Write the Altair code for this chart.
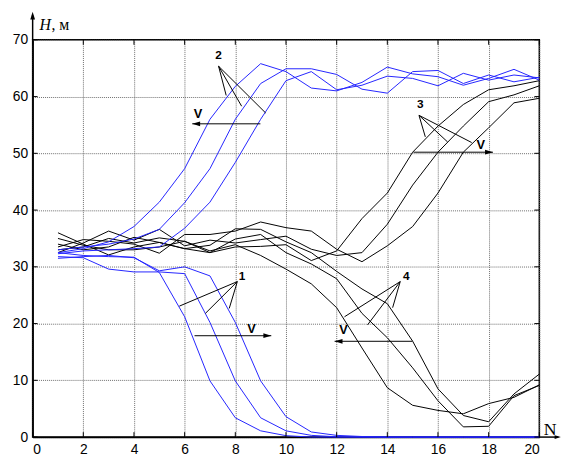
import altair as alt
import pandas as pd

# ---------------- data ----------------
N = list(range(1, 21))

# blue, group 1 (falling)
b1a = [32.5, 32.0, 31.8, 31.7, 29.0, 21.2, 9.9, 3.4, 1.1, 0.25, 0, 0, 0, 0, 0, 0, 0, 0, 0, 0]
b1b = [31.8, 31.6, 29.6, 29.1, 29.1, 28.8, 20.2, 9.9, 3.4, 1.1, 0.3, 0.05, 0, 0, 0, 0, 0, 0, 0, 0]
b1c = [31.5, 31.8, 32.0, 31.6, 29.3, 30.0, 28.4, 20.2, 9.9, 3.6, 0.9, 0.3, 0.1, 0, 0, 0, 0, 0, 0, 0]
# blue, group 2 (rising)
b2a = [32.5, 33.2, 34.4, 37.1, 41.4, 47.3, 56.0, 61.8, 65.8, 64.4, 61.5, 61.0, 62.5, 65.2, 64.0, 63.5, 62.0, 63.2, 64.8, 62.9]
b2b = [33.0, 33.5, 34.0, 34.9, 36.6, 41.3, 47.3, 56.0, 62.3, 64.9, 64.9, 63.9, 61.3, 60.6, 64.4, 64.6, 62.3, 63.8, 62.6, 63.4]
b2c = [32.3, 32.8, 33.0, 33.2, 33.5, 36.8, 41.4, 48.4, 56.0, 62.8, 64.4, 61.2, 62.0, 63.6, 63.2, 61.9, 64.1, 62.9, 63.8, 63.3]
# black, group 3 (rising late)
k3a = [36.0, 34.0, 32.1, 33.5, 34.3, 33.2, 32.5, 33.5, 33.6, 33.9, 31.1, 32.8, 38.5, 43.0, 50.2, 54.8, 58.6, 61.2, 61.9, 62.8]
k3b = [32.5, 34.2, 36.3, 34.7, 36.6, 33.7, 34.7, 34.2, 34.8, 35.4, 33.1, 32.0, 32.5, 37.5, 44.4, 50.2, 54.8, 59.1, 60.3, 61.9]
k3c = [33.5, 34.8, 34.5, 34.0, 32.4, 35.7, 35.7, 36.3, 37.9, 36.9, 36.3, 33.1, 30.9, 33.7, 37.1, 43.0, 50.2, 54.5, 58.9, 59.7]
# black, group 4 (falling late)
k4a = [33.0, 33.5, 35.0, 34.2, 35.1, 34.5, 32.8, 33.9, 32.0, 29.6, 27.0, 22.8, 15.7, 8.7, 5.6, 4.7, 4.1, 5.9, 7.0, 9.2]
k4b = [34.0, 33.0, 33.5, 35.2, 34.3, 33.2, 33.8, 36.7, 36.6, 34.4, 32.5, 29.2, 26.1, 23.5, 16.9, 8.5, 3.8, 2.7, 7.6, 11.1]
k4c = [35.0, 33.8, 33.0, 33.0, 33.5, 34.5, 32.5, 34.9, 35.7, 32.5, 30.5, 27.9, 21.8, 17.5, 12.2, 6.4, 1.8, 1.9, 7.3, 9.1]

blue_series = {"1a": b1a, "1b": b1b, "1c": b1c, "2a": b2a, "2b": b2b, "2c": b2c}
black_series = {"3a": k3a, "3b": k3b, "3c": k3c, "4a": k4a, "4b": k4b, "4c": k4c}

x_ticks = list(range(0, 21, 2))
y_ticks = list(range(0, 71, 10))

# annotations (data coordinates)
lab_text = ["1", "2", "3", "4"]
lab_x = [8.27, 7.34, 15.30, 14.75]
lab_y = [28.45, 67.25, 58.6, 28.45]

lead_x = [8.08, 8.08, 8.08, 7.34, 7.34, 7.34, 15.25, 15.25, 15.25, 14.51, 14.51, 14.51]
lead_y = [27.4, 27.4, 27.4, 65.35, 65.35, 65.35, 56.7, 56.7, 56.7, 27.4, 27.4, 27.4]
lead_x2 = [5.79, 6.82, 7.76, 7.64, 8.25, 9.20, 15.50, 16.38, 17.33, 12.31, 13.22, 14.21]
lead_y2 = [23.07, 21.8, 22.67, 60.2, 58.3, 57.1, 52.9, 52.0, 51.9, 21.2, 19.77, 22.8]

arr_from = [6.39, 8.99, 15.03, 14.99]
arr_to = [9.42, 6.30, 18.17, 11.92]
arr_y = [17.86, 55.2, 50.2, 16.88]
v_x = [8.64, 6.53, 17.69, 12.27]
v_y = [18.97, 57.0, 51.5, 18.9]

# ---------------- frames ----------------
rows = []
for grp, d in (("blue", blue_series), ("black", black_series)):
    for name, vals in d.items():
        for n, h in zip(N, vals):
            rows.append({"N": n, "H": h, "s": name, "g": grp})
df = pd.DataFrame(rows)

lead_df = pd.DataFrame({"x": lead_x, "y": lead_y, "x2": lead_x2, "y2": lead_y2})
arr_df = pd.DataFrame({"x": arr_from, "x2": arr_to, "y": arr_y,
                       "dir": ["r" if b > a else "l" for a, b in zip(arr_from, arr_to)]})
lab_df = pd.DataFrame({"x": lab_x, "y": lab_y, "t": lab_text})
v_df = pd.DataFrame({"x": v_x, "y": v_y, "t": ["V"] * 4})
xt_df = pd.DataFrame({"v": x_ticks})
yt_df = pd.DataFrame({"v": y_ticks})

W, H = 514, 403
xs = alt.Scale(domain=[0, 20], nice=False, zero=False)
ys = alt.Scale(domain=[0, 70], nice=False, zero=False)
xaxis = alt.Axis(values=x_ticks, title=None, grid=True, ticks=False, labelPadding=6)
yaxis = alt.Axis(values=y_ticks, title=None, grid=True, ticks=False, labelPadding=5)


def X(f):
    return alt.X(f, type="quantitative", scale=xs, axis=xaxis)


def Y(f):
    return alt.Y(f, type="quantitative", scale=ys, axis=yaxis)


BLUE = "#2424ff"

black_lines = alt.Chart(df[df.g == "black"]).mark_line(color="black", strokeWidth=1, clip=False).encode(
    x=X("N"), y=Y("H"), detail="s:N")
blue_lines = alt.Chart(df[df.g == "blue"]).mark_line(color=BLUE, strokeWidth=1, clip=False).encode(
    x=X("N"), y=Y("H"), detail="s:N")

leaders = alt.Chart(lead_df).mark_rule(color="black", strokeWidth=1, clip=False).encode(
    x=X("x"), y=Y("y"), x2="x2", y2="y2")
arrows = alt.Chart(arr_df).mark_rule(color="black", strokeWidth=1, clip=False).encode(
    x=X("x"), x2="x2", y=Y("y"))
head_r = alt.Chart(arr_df[arr_df.dir == "r"]).mark_point(
    shape="M0,0L-2,-0.6L-2,0.6Z", filled=True, color="black", size=64, opacity=1, clip=False).encode(
    x=X("x2"), y=Y("y"))
head_l = alt.Chart(arr_df[arr_df.dir == "l"]).mark_point(
    shape="M0,0L2,-0.6L2,0.6Z", filled=True, color="black", size=64, opacity=1, clip=False).encode(
    x=X("x2"), y=Y("y"))
labels = alt.Chart(lab_df).mark_text(font="Liberation Sans", fontWeight="bold", fontSize=12,
                                     color="black", clip=False).encode(x=X("x"), y=Y("y"), text="t:N")
vlabels = alt.Chart(v_df).mark_text(font="Liberation Sans", fontWeight="bold", fontSize=13,
                                    color="black", clip=False).encode(x=X("x"), y=Y("y"), text="t:N")

# inward ticks on all four sides
tk_left = alt.Chart(yt_df).mark_rule(color="black", strokeWidth=1).encode(
    y=Y("v"), x=alt.value(0), x2=alt.value(5))
tk_right = alt.Chart(yt_df).mark_rule(color="black", strokeWidth=1).encode(
    y=Y("v"), x=alt.value(W - 5), x2=alt.value(W))
tk_top = alt.Chart(xt_df).mark_rule(color="black", strokeWidth=1).encode(
    x=X("v"), y=alt.value(0), y2=alt.value(5))
tk_bot = alt.Chart(xt_df).mark_rule(color="black", strokeWidth=1).encode(
    x=X("v"), y=alt.value(H - 5), y2=alt.value(H))

# axis arrows and axis names
ax_df = pd.DataFrame({"x": [0, 20], "y": [70, 0], "x2": [0, 20.75], "y2": [74.3, 0]})
ax_lines = alt.Chart(ax_df).mark_rule(color="black", strokeWidth=1.5, clip=False).encode(
    x=X("x"), y=Y("y"), x2="x2", y2="y2")
up_head = alt.Chart(pd.DataFrame({"x": [0], "y": [74.95]})).mark_point(
    shape="M0,0L-0.6,2L0.6,2Z", filled=True, color="black", size=64, opacity=1, clip=False).encode(
    x=X("x"), y=Y("y"))
rt_head = alt.Chart(pd.DataFrame({"x": [20.85], "y": [0]})).mark_point(
    shape="M0,0L-2,-0.6L-2,0.6Z", filled=True, color="black", size=40, opacity=1, clip=False).encode(
    x=X("x"), y=Y("y"))
h_name = alt.Chart(pd.DataFrame({"x": [0.27], "y": [71.65], "t": ["H"]})).mark_text(
    font="Liberation Serif", fontStyle="italic", fontSize=16, align="left", baseline="alphabetic",
    color="black", clip=False).encode(x=X("x"), y=Y("y"), text="t:N")
h_unit = alt.Chart(pd.DataFrame({"x": [0.74], "y": [71.65], "t": [", м"]})).mark_text(
    font="Liberation Serif", fontSize=16, align="left", baseline="alphabetic",
    color="black", clip=False).encode(x=X("x"), y=Y("y"), text="t:N")
n_name = alt.Chart(pd.DataFrame({"x": [20.18], "y": [0.45], "t": ["N"]})).mark_text(
    font="Liberation Serif", fontSize=18, align="left", baseline="alphabetic",
    color="black", clip=False).encode(x=X("x"), y=Y("y"), text="t:N")

chart = alt.layer(
    black_lines, blue_lines, leaders, arrows, head_r, head_l, labels, vlabels,
    tk_left, tk_right, tk_top, tk_bot, ax_lines, up_head, rt_head, h_name, h_unit, n_name
).properties(
    width=W, height=H,
    autosize=alt.AutoSizeParams(type="none"),
    padding={"left": 25, "top": 29, "right": 22, "bottom": 22},
).configure_view(
    stroke="black", strokeWidth=1.5
).configure_axis(
    domainColor="black", domainWidth=1.5,
    gridColor="#6e6e6e", gridDash=[1, 1], gridWidth=1, gridOpacity=1,
    labelFont="Liberation Sans", labelFontSize=14, labelColor="black",
)

chart.save("out.html", embed_options={"renderer": "svg", "actions": False})
